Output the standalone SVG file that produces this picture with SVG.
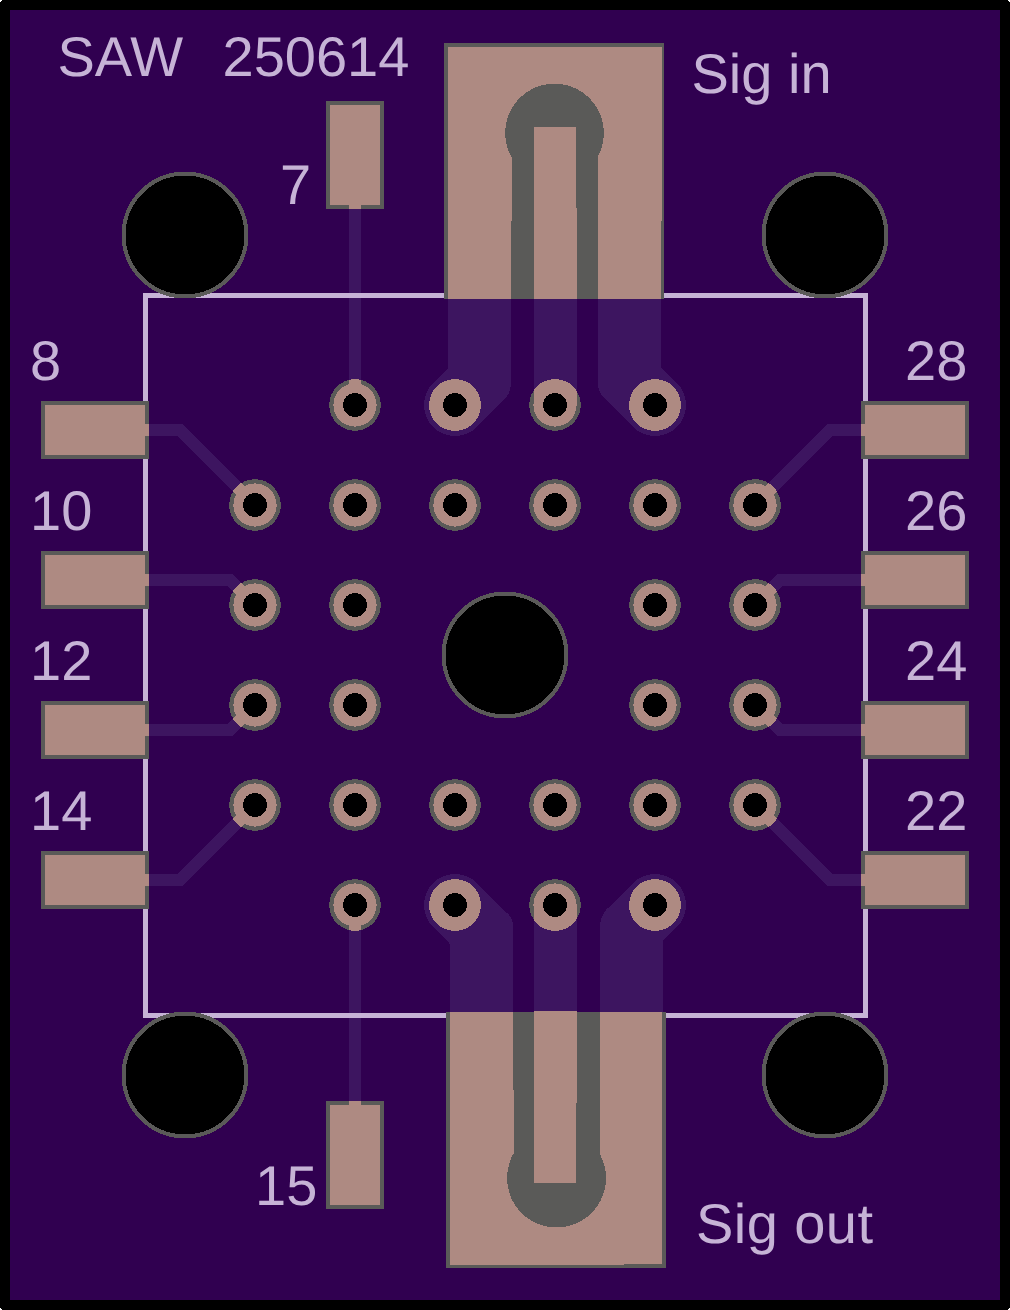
<svg xmlns="http://www.w3.org/2000/svg" xmlns:xlink="http://www.w3.org/1999/xlink" width="1010" height="1310" viewBox="0 0 1010 1310" shape-rendering="crispEdges">
<style>
.gray{fill:#5a5a58}
.cu{fill:#ae8a82}
.hole{fill:#000}
.drill{fill:#000;stroke:#5a5a58;stroke-width:4}
.thin{fill:none;stroke-width:12;stroke-linejoin:miter}
.silk{fill:none;stroke:#c6b3d6;stroke-width:5}
.t{font-family:"Liberation Sans",Arial,sans-serif;font-size:56px;fill:#c6b3d6;text-rendering:geometricPrecision}
.ring{fill:none;stroke:#fff;stroke-width:4.4}
</style>
<defs>
<g id="traceset">
<g class="thin">
<path d="M355 205V405"/>
<path d="M355 905V1105"/>
<path d="M145 430H180L255 505"/>
<path d="M145 580H230L255 605"/>
<path d="M145 730H230L255 705"/>
<path d="M145 880H180L255 805"/>
<path d="M865 430H830L755 505"/>
<path d="M865 580H780L755 605"/>
<path d="M865 730H780L755 705"/>
<path d="M865 880H830L755 805"/>
</g>
<g stroke="none">
<path d="M448 299H511V383Q511 392 505 399L476.9 426.9L433.1 383.1L448 368Z"/><circle cx="455" cy="405" r="31"/>
<path d="M598 299H661V368L676.9 383.1L633.1 426.9L605 399Q598 392 598 383Z"/><circle cx="655" cy="405" r="31"/>
<rect x="534" y="299" width="43" height="106"/>
<path d="M450 1012H513V927Q513 918 507 913L476.9 883.1L433.1 926.9L450 944Z"/><circle cx="455" cy="905" r="31"/>
<path d="M600 1012H663V941L676.9 926.9L633.1 883.1L606 910Q600 917 600 927Z"/><circle cx="655" cy="905" r="31"/>
<rect x="534" y="905" width="43" height="107"/>
</g>
</g>
<mask id="rings" maskUnits="userSpaceOnUse" x="0" y="0" width="1010" height="1310">
<g class="ring">
<circle cx="355" cy="405" r="23.7"/><circle cx="455" cy="405" r="23.7"/><circle cx="555" cy="405" r="23.7"/><circle cx="655" cy="405" r="23.7"/>
<circle cx="255" cy="505" r="23.7"/><circle cx="355" cy="505" r="23.7"/><circle cx="455" cy="505" r="23.7"/><circle cx="555" cy="505" r="23.7"/><circle cx="655" cy="505" r="23.7"/><circle cx="755" cy="505" r="23.7"/>
<circle cx="255" cy="605" r="23.7"/><circle cx="355" cy="605" r="23.7"/><circle cx="655" cy="605" r="23.7"/><circle cx="755" cy="605" r="23.7"/>
<circle cx="255" cy="705" r="23.7"/><circle cx="355" cy="705" r="23.7"/><circle cx="655" cy="705" r="23.7"/><circle cx="755" cy="705" r="23.7"/>
<circle cx="255" cy="805" r="23.7"/><circle cx="355" cy="805" r="23.7"/><circle cx="455" cy="805" r="23.7"/><circle cx="555" cy="805" r="23.7"/><circle cx="655" cy="805" r="23.7"/><circle cx="755" cy="805" r="23.7"/>
<circle cx="355" cy="905" r="23.7"/><circle cx="455" cy="905" r="23.7"/><circle cx="555" cy="905" r="23.7"/><circle cx="655" cy="905" r="23.7"/>
</g>
</mask>
<g id="via">
<circle r="25.8" class="gray"/>
<circle r="21.6" class="cu"/>
<circle r="12" class="hole"/>
</g>
</defs>

<rect id="board-edge" x="0" y="0" width="1010" height="1310" rx="4" fill="#000"/>
<rect id="board" x="10" y="10" width="990" height="1290" fill="#300050"/>

<g id="connectors">
<use href="#traceset" xlink:href="#traceset" fill="#3d1560" stroke="#3d1560"/>
</g>

<rect id="outline" class="silk" x="145.5" y="295.5" width="720" height="720"/>

<g id="pad-sig-in">
<rect class="gray" x="444" y="43" width="220" height="256"/>
<path class="cu" d="M448 47H662V221H661V299H448Z"/>
<circle class="gray" cx="554.5" cy="133" r="49.3"/>
<path class="gray" d="M512 133H598V299H511V221H512Z"/>
<path class="cu" d="M534 127H576V208H577V299H534Z"/>
</g>
<g id="pad-sig-out">
<rect class="gray" x="446" y="1012" width="220" height="256"/>
<path class="cu" d="M450 1012H662V1264H624V1265H450Z"/>
<circle class="gray" cx="556.5" cy="1178" r="49.5"/>
<path class="gray" d="M513 1012H600V1178H514V1090H513Z"/>
<path class="cu" d="M534 1011H577V1103H576V1183H534Z"/>
</g>
<g id="pad-7"><rect class="gray" x="326" y="101" width="58" height="108"/><rect class="cu" x="330" y="105" width="50" height="100"/><rect class="cu" x="349" y="205" width="12" height="4"/></g>
<g id="pad-15"><rect class="gray" x="326" y="1101" width="58" height="108"/><rect class="cu" x="330" y="1105" width="50" height="100"/><rect class="cu" x="349" y="1101" width="12" height="4"/></g>
<g id="pad-8"><rect class="gray" x="41" y="401" width="108" height="58"/><rect class="cu" x="45" y="405" width="100" height="50"/><rect class="cu" x="145" y="424" width="4" height="12"/></g>
<g id="pad-10"><rect class="gray" x="41" y="551" width="108" height="58"/><rect class="cu" x="45" y="555" width="100" height="50"/><rect class="cu" x="145" y="574" width="4" height="12"/></g>
<g id="pad-12"><rect class="gray" x="41" y="701" width="108" height="58"/><rect class="cu" x="45" y="705" width="100" height="50"/><rect class="cu" x="145" y="724" width="4" height="12"/></g>
<g id="pad-14"><rect class="gray" x="41" y="851" width="108" height="58"/><rect class="cu" x="45" y="855" width="100" height="50"/><rect class="cu" x="145" y="874" width="4" height="12"/></g>
<g id="pad-28"><rect class="gray" x="861" y="401" width="108" height="58"/><rect class="cu" x="865" y="405" width="100" height="50"/><rect class="cu" x="861" y="424" width="4" height="12"/></g>
<g id="pad-26"><rect class="gray" x="861" y="551" width="108" height="58"/><rect class="cu" x="865" y="555" width="100" height="50"/><rect class="cu" x="861" y="574" width="4" height="12"/></g>
<g id="pad-24"><rect class="gray" x="861" y="701" width="108" height="58"/><rect class="cu" x="865" y="705" width="100" height="50"/><rect class="cu" x="861" y="724" width="4" height="12"/></g>
<g id="pad-22"><rect class="gray" x="861" y="851" width="108" height="58"/><rect class="cu" x="865" y="855" width="100" height="50"/><rect class="cu" x="861" y="874" width="4" height="12"/></g>

<g id="vias">
<use id="v1" href="#via" xlink:href="#via" x="355" y="405"/><use id="v2" href="#via" xlink:href="#via" x="455" y="405"/><use id="v3" href="#via" xlink:href="#via" x="555" y="405"/><use id="v4" href="#via" xlink:href="#via" x="655" y="405"/>
<use id="v5" href="#via" xlink:href="#via" x="255" y="505"/><use id="v6" href="#via" xlink:href="#via" x="355" y="505"/><use id="v7" href="#via" xlink:href="#via" x="455" y="505"/><use id="v8" href="#via" xlink:href="#via" x="555" y="505"/><use id="v9" href="#via" xlink:href="#via" x="655" y="505"/><use id="v10" href="#via" xlink:href="#via" x="755" y="505"/>
<use id="v11" href="#via" xlink:href="#via" x="255" y="605"/><use id="v12" href="#via" xlink:href="#via" x="355" y="605"/><use id="v13" href="#via" xlink:href="#via" x="655" y="605"/><use id="v14" href="#via" xlink:href="#via" x="755" y="605"/>
<use id="v15" href="#via" xlink:href="#via" x="255" y="705"/><use id="v16" href="#via" xlink:href="#via" x="355" y="705"/><use id="v17" href="#via" xlink:href="#via" x="655" y="705"/><use id="v18" href="#via" xlink:href="#via" x="755" y="705"/>
<use id="v19" href="#via" xlink:href="#via" x="255" y="805"/><use id="v20" href="#via" xlink:href="#via" x="355" y="805"/><use id="v21" href="#via" xlink:href="#via" x="455" y="805"/><use id="v22" href="#via" xlink:href="#via" x="555" y="805"/><use id="v23" href="#via" xlink:href="#via" x="655" y="805"/><use id="v24" href="#via" xlink:href="#via" x="755" y="805"/>
<use id="v25" href="#via" xlink:href="#via" x="355" y="905"/><use id="v26" href="#via" xlink:href="#via" x="455" y="905"/><use id="v27" href="#via" xlink:href="#via" x="555" y="905"/><use id="v28" href="#via" xlink:href="#via" x="655" y="905"/>
</g>
<g id="trace-entry" mask="url(#rings)">
<use href="#traceset" xlink:href="#traceset" fill="#ae8a82" stroke="#ae8a82"/>
</g>

<g id="drills">
<circle class="drill" cx="185" cy="235" r="61.4"/>
<circle class="drill" cx="825" cy="235" r="61.4"/>
<circle class="drill" cx="185" cy="1075" r="61.4"/>
<circle class="drill" cx="825" cy="1075" r="61.4"/>
<circle class="drill" cx="505" cy="655" r="61.4"/>
</g>

<g id="labels">
<text class="t" x="57.5" y="75.5">SAW</text>
<text class="t" x="222.5" y="75.5">250614</text>
<text class="t" x="691.5" y="93">Sig in</text>
<text class="t" x="696" y="1243" textLength="177">Sig out</text>
<text class="t" x="280" y="204">7</text>
<text class="t" x="255" y="1205">15</text>
<text class="t" x="30" y="380">8</text>
<text class="t" x="30" y="530">10</text>
<text class="t" x="30" y="680">12</text>
<text class="t" x="30" y="830">14</text>
<text class="t" x="905" y="380">28</text>
<text class="t" x="905" y="530">26</text>
<text class="t" x="905" y="680">24</text>
<text class="t" x="905" y="830">22</text>
</g>
</svg>
